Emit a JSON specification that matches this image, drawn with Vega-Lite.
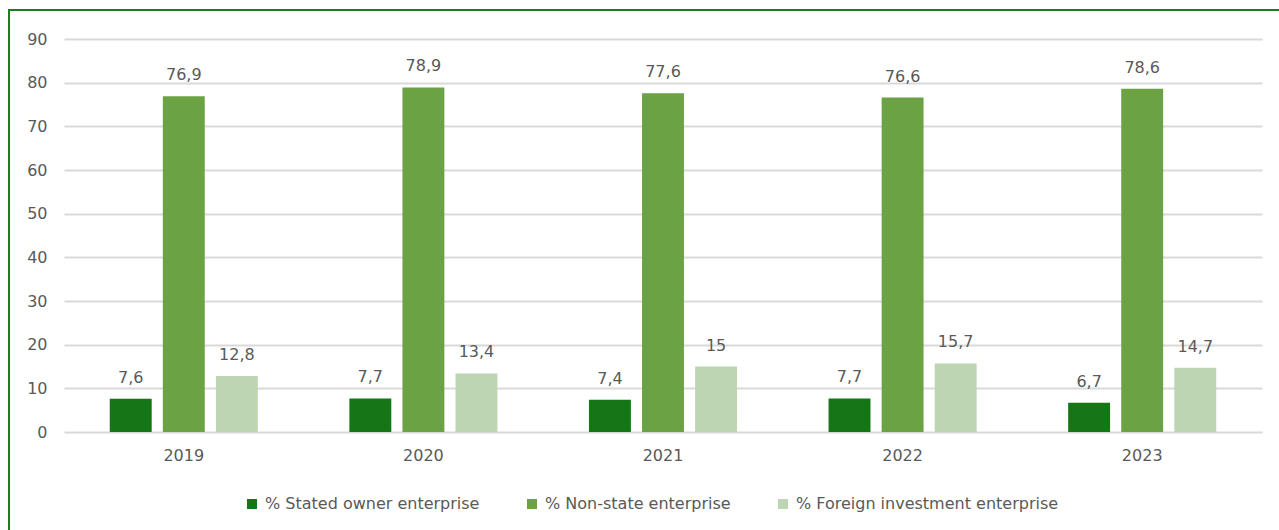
{
  "$schema": "https://vega.github.io/schema/vega-lite/v6.json",
  "autosize": {"type": "none"},
  "padding": {"left": 9, "top": 10, "right": 0, "bottom": 0},
  "width": 1271,
  "height": 521,
  "config": {
    "locale": {"number": {"decimal": ",", "thousands": ".", "grouping": [3], "currency": ["", ""]}},
    "view": {"stroke": "#1e7b1e", "strokeWidth": 2},
    "font": "DejaVu Sans"
  },
  "data": {
    "values": [
      {"year": "2019", "series": "% Stated owner enterprise", "value": 7.6},
      {"year": "2019", "series": "% Non-state enterprise", "value": 76.9},
      {"year": "2019", "series": "% Foreign investment enterprise", "value": 12.8},
      {"year": "2020", "series": "% Stated owner enterprise", "value": 7.7},
      {"year": "2020", "series": "% Non-state enterprise", "value": 78.9},
      {"year": "2020", "series": "% Foreign investment enterprise", "value": 13.4},
      {"year": "2021", "series": "% Stated owner enterprise", "value": 7.4},
      {"year": "2021", "series": "% Non-state enterprise", "value": 77.6},
      {"year": "2021", "series": "% Foreign investment enterprise", "value": 15},
      {"year": "2022", "series": "% Stated owner enterprise", "value": 7.7},
      {"year": "2022", "series": "% Non-state enterprise", "value": 76.6},
      {"year": "2022", "series": "% Foreign investment enterprise", "value": 15.7},
      {"year": "2023", "series": "% Stated owner enterprise", "value": 6.7},
      {"year": "2023", "series": "% Non-state enterprise", "value": 78.6},
      {"year": "2023", "series": "% Foreign investment enterprise", "value": 14.7}
    ]
  },
  "encoding": {
    "x": {
      "field": "year", "type": "nominal",
      "scale": {"range": [55, 1253], "paddingInner": 0.382, "paddingOuter": 0.191},
      "axis": {"title": null, "orient": "bottom", "offset": -99, "domain": false, "ticks": false, "labelPadding": 15, "labelFontSize": 16, "labelColor": "#595959", "labelAngle": 0, "grid": false}
    },
    "xOffset": {
      "field": "series", "type": "nominal",
      "scale": {"domain": ["% Stated owner enterprise", "% Non-state enterprise", "% Foreign investment enterprise"], "paddingInner": 0.21, "paddingOuter": 0}
    },
    "y": {
      "field": "value", "type": "quantitative",
      "scale": {"domain": [0, 90], "range": [422, 29], "nice": false},
      "axis": {"title": null, "offset": -38, "domain": false, "ticks": false, "labelPadding": 0, "values": [0, 10, 20, 30, 40, 50, 60, 70, 80, 90], "labelFontSize": 16, "labelColor": "#595959", "grid": true, "gridColor": "#d9d9d9", "gridWidth": 2}
    }
  },
  "layer": [
    {
      "mark": {"type": "bar"},
      "encoding": {
        "color": {
          "field": "series", "type": "nominal",
          "scale": {"domain": ["% Stated owner enterprise", "% Non-state enterprise", "% Foreign investment enterprise"], "range": ["#147614", "#6aa244", "#bdd5b2"]},
          "legend": {"orient": "none", "legendX": 235, "legendY": 486, "direction": "horizontal", "title": null, "symbolType": "square", "symbolSize": 100, "symbolStrokeWidth": 0, "labelFontSize": 16, "labelColor": "#595959", "labelLimit": 0, "columnPadding": 44, "labelOffset": 5}
        }
      }
    },
    {
      "mark": {"type": "text", "baseline": "alphabetic", "dy": -16, "fontSize": 16, "color": "#595959"},
      "encoding": {
        "text": {"field": "value", "type": "quantitative", "format": ".1~f"}
      }
    }
  ]
}
